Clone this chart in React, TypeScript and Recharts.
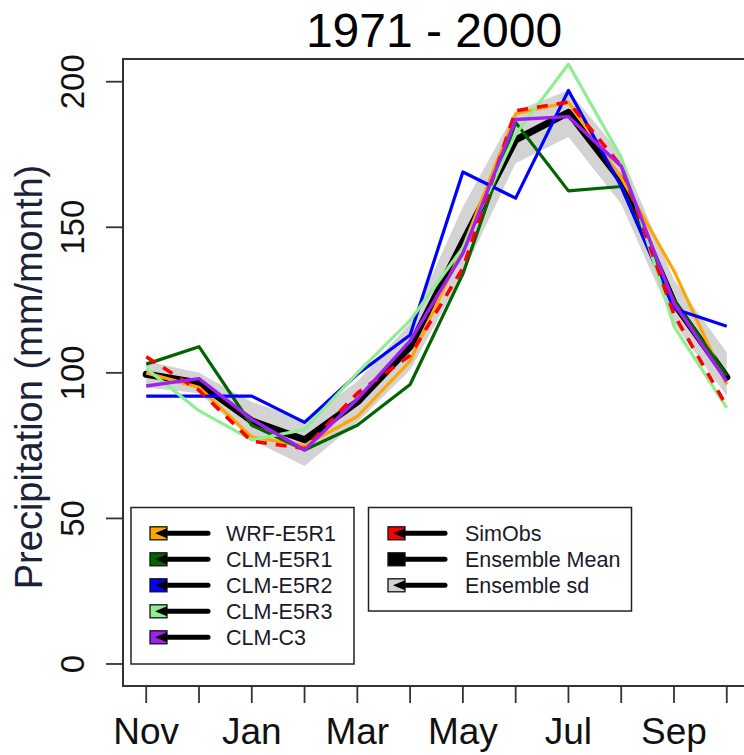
import React from 'react';
import { ComposedChart, Line, Area, XAxis, YAxis, ReferenceArea, Legend } from 'recharts';

const months = ['Nov', 'Dec', 'Jan', 'Feb', 'Mar', 'Apr', 'May', 'Jun', 'Jul', 'Aug', 'Sep', 'Oct'];
const shownMonths = ['Nov', 'Jan', 'Mar', 'May', 'Jul', 'Sep'];
const yTicks = [0, 50, 100, 150, 200];

const wrfE5R1 = [100, 95, 78, 75, 85, 104, 143, 189, 193, 167, 135, 96];
const clmE5R1 = [103, 109, 82, 73.5, 82, 96, 134, 186, 162.5, 164, 125, 99];
const clmE5R2 = [92, 92, 92, 83, 99.5, 113, 169, 160, 197, 164, 122, 116];
const clmE5R3 = [101.5, 87, 77, 80.5, 100, 118, 143, 182, 206, 174, 116, 88];
const clmC3 = [95.5, 98, 84, 73.5, 91, 111, 141, 187, 188, 171, 124, 97];
const simObs = [105.5, 94, 76.5, 74, 93, 106, 136, 190, 193, 171, 120, 88.5];
const ensMean = [99.5, 96.5, 83.5, 77, 90, 109, 145, 180, 189.5, 166, 124, 98.5];
const sdLow = [95, 93, 77, 68, 83, 101, 134, 172, 181, 158, 117, 92];
const sdHigh = [104, 100, 90, 84, 97, 117, 157, 190, 197, 175, 132, 107];

const data = months.map((m, i) => ({
  x: i,
  month: m,
  wrf: wrfE5R1[i],
  e5r1: clmE5R1[i],
  e5r2: clmE5R2[i],
  e5r3: clmE5R3[i],
  c3: clmC3[i],
  obs: simObs[i],
  mean: ensMean[i],
  band: [sdLow[i], sdHigh[i]],
}));

const leftLegend = [
  { name: 'WRF-E5R1', color: '#FFA500' },
  { name: 'CLM-E5R1', color: '#006400' },
  { name: 'CLM-E5R2', color: '#0000FF' },
  { name: 'CLM-E5R3', color: '#90EE90' },
  { name: 'CLM-C3', color: '#A020F0' },
];
const rightLegend = [
  { name: 'SimObs', color: '#FF0000' },
  { name: 'Ensemble Mean', color: '#000000' },
  { name: 'Ensemble sd', color: '#D3D3D3' },
];

const FONT = 'Liberation Sans, Arial, Helvetica, sans-serif';
const X_MIN = -0.44;
const X_MAX = 11.44;
const Y_MIN = -7.56;
const Y_MAX = 207.8;

const XTick = (props: any) => {
  const { x, payload } = props;
  const label = months[payload.value];
  if (!shownMonths.includes(label)) return null;
  return (
    <text x={x} y={744} textAnchor="middle" fontSize={37} fontFamily={FONT} fill="#111">
      {label}
    </text>
  );
};

const YTick = (props: any) => {
  const { y, payload } = props;
  return (
    <text transform={`translate(84, ${y}) rotate(-90)`} textAnchor="middle" fontSize={33} fontFamily={FONT} fill="#111">
      {payload.value}
    </text>
  );
};

const LegendRow = ({ x, y, color, name, lineEnd, textX }: any) => (
  <g>
    <line x1={x + 10} y1={y} x2={lineEnd} y2={y} stroke="#000" strokeWidth={5} strokeLinecap="round" />
    <rect x={x} y={y - 6.5} width={17} height={13} fill={color} stroke="#111" strokeWidth={1.3} />
    <polygon points={`${x + 5},${y} ${x + 17},${y - 5} ${x + 17},${y + 5}`} fill="#000" />
    <text x={textX} y={y + 7.5} fontSize={21.5} fontFamily={FONT} fill="#1a1a2a">
      {name}
    </text>
  </g>
);

const LegendContent = () => (
  <svg width={744} height={755} style={{ position: 'absolute', left: 0, top: 0, overflow: 'visible' }}>
    <rect x={131} y={507.5} width={223} height={156.5} fill="#fff" stroke="#222" strokeWidth={1.5} />
    {leftLegend.map((e, i) => (
      <LegendRow key={e.name} x={150} y={533.3 + i * 26} color={e.color} name={e.name} lineEnd={208} textX={226} />
    ))}
    <rect x={368.5} y={507.5} width={263} height={103.5} fill="#fff" stroke="#222" strokeWidth={1.5} />
    {rightLegend.map((e, i) => (
      <LegendRow key={e.name} x={388} y={533.3 + i * 26} color={e.color} name={e.name} lineEnd={445} textX={465} />
    ))}
  </svg>
);

export default function App() {
  return (
    <div style={{ position: 'absolute', left: 0, top: 0, width: 744, height: 755, overflow: 'hidden', background: '#fff' }}>
      <svg width={744} height={60} style={{ position: 'absolute', left: 0, top: 0 }}>
        <text x={434} y={47} textAnchor="middle" fontSize={48} fontFamily={FONT} fill="#000">
          1971 - 2000
        </text>
      </svg>
      <div style={{ position: 'absolute', left: 0, top: 0 }}>
        <ComposedChart width={760} height={755} data={data} margin={{ top: 59, right: 10, bottom: 0, left: 0 }}>
          <XAxis
            type="number"
            dataKey="x"
            domain={[X_MIN, X_MAX]}
            ticks={months.map((_, i) => i)}
            allowDataOverflow
            axisLine={false}
            tickLine={{ stroke: '#333', strokeWidth: 1.8 }}
            tickSize={17}
            height={69}
            interval={0}
            tick={<XTick />}
          />
          <YAxis
            type="number"
            domain={[Y_MIN, Y_MAX]}
            ticks={yTicks}
            allowDataOverflow
            axisLine={false}
            tickLine={{ stroke: '#333', strokeWidth: 1.8 }}
            tickSize={17}
            width={123}
            interval={0}
            tick={<YTick />}
            label={{
              content: () => (
                <text transform="translate(42, 377) rotate(-90)" textAnchor="middle" fontSize={38} fontFamily={FONT} fill="#1a2238">
                  Precipitation (mm/month)
                </text>
              ),
            }}
          />
          <Area dataKey="band" type="linear" stroke="none" fill="#D3D3D3" fillOpacity={1} isAnimationActive={false} legendType="none" />
          <Line dataKey="mean" type="linear" stroke="#000" strokeWidth={7} dot={false} strokeLinejoin="round" strokeLinecap="round" isAnimationActive={false} />
          <Line dataKey="wrf" type="linear" stroke="#FFA500" strokeWidth={3.2} dot={false} strokeLinejoin="round" isAnimationActive={false} />
          <Line dataKey="e5r1" type="linear" stroke="#006400" strokeWidth={3.2} dot={false} strokeLinejoin="round" isAnimationActive={false} />
          <Line dataKey="e5r2" type="linear" stroke="#0000FF" strokeWidth={3.2} dot={false} strokeLinejoin="round" isAnimationActive={false} />
          <Line dataKey="e5r3" type="linear" stroke="#90EE90" strokeWidth={3.2} dot={false} strokeLinejoin="round" isAnimationActive={false} />
          <Line dataKey="obs" type="linear" stroke="#FF0000" strokeWidth={3.6} strokeDasharray="11 9" dot={false} strokeLinejoin="round" isAnimationActive={false} />
          <Line dataKey="c3" type="linear" stroke="#A020F0" strokeWidth={3.4} dot={false} strokeLinejoin="round" isAnimationActive={false} />
          <ReferenceArea x1={X_MIN} x2={X_MAX} y1={Y_MIN} y2={Y_MAX} fill="none" fillOpacity={0} stroke="#333" strokeWidth={2} ifOverflow="visible" />
          <Legend
            layout="horizontal"
            verticalAlign="middle"
            align="center"
            content={<LegendContent />}
            wrapperStyle={{ position: 'absolute', left: 0, top: 0, width: 744, height: 755, pointerEvents: 'none' }}
          />
        </ComposedChart>
      </div>
    </div>
  );
}
